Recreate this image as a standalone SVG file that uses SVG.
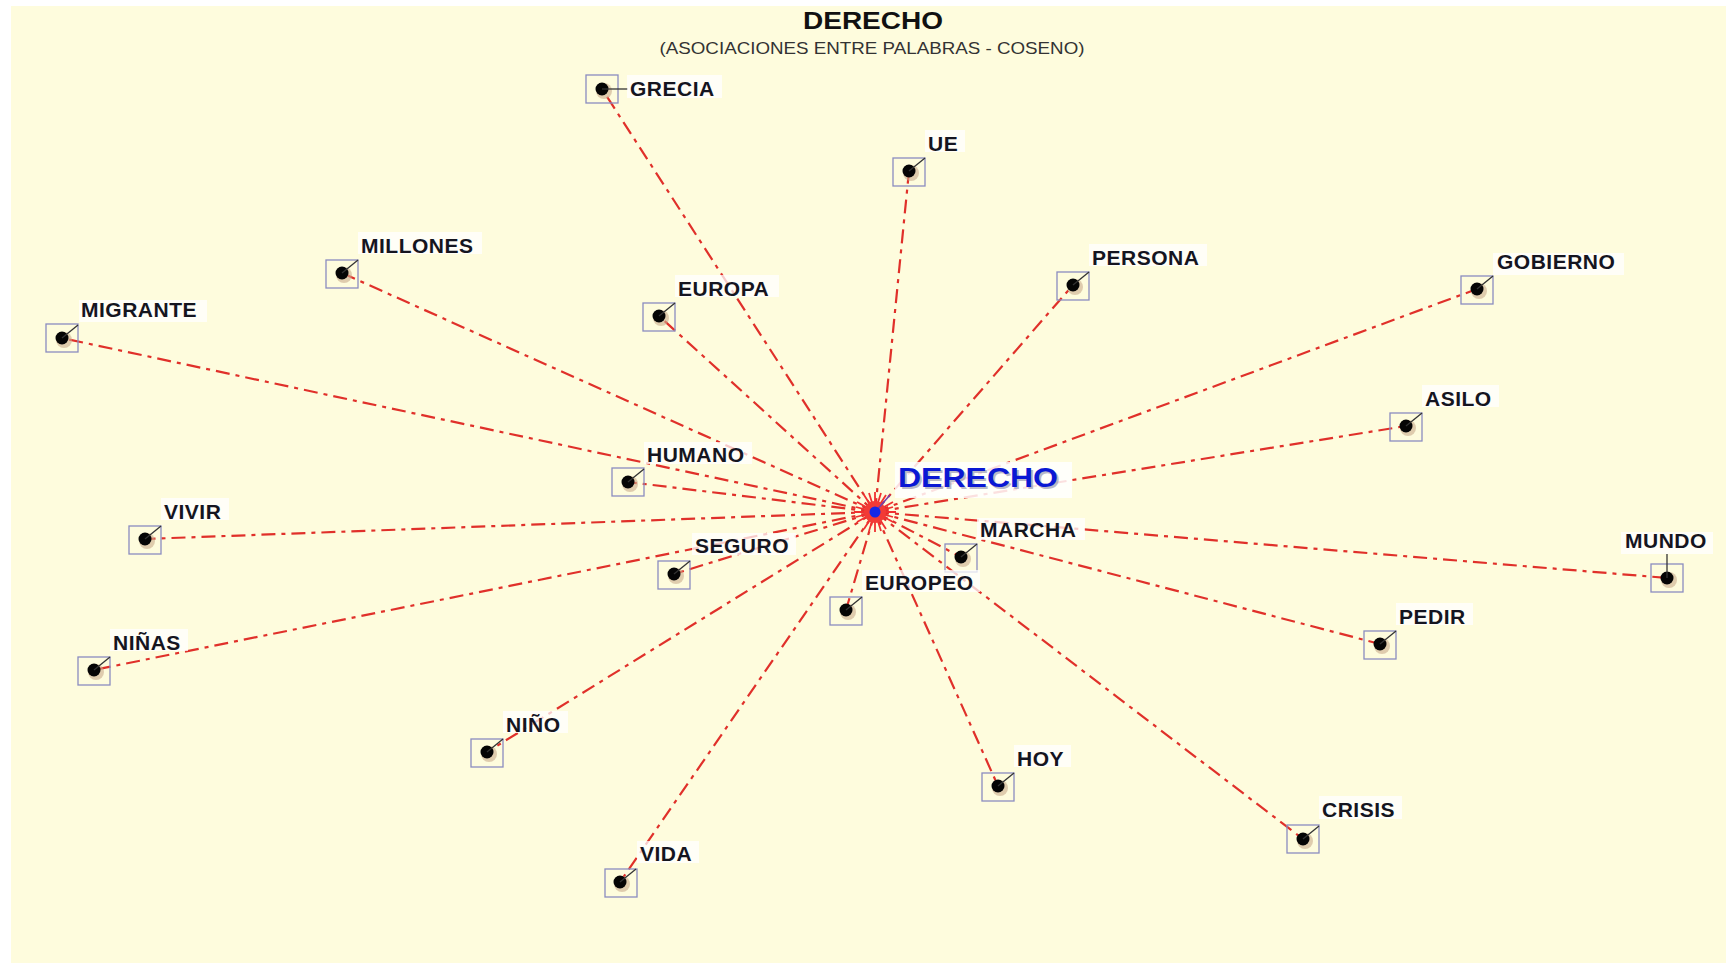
<svg xmlns="http://www.w3.org/2000/svg" width="1726" height="963" viewBox="0 0 1726 963">
<defs>
<style>
.bg{fill:#FEFCDD}
.lbl{font-family:"Liberation Sans",Arial,sans-serif;font-weight:bold;font-size:21px;fill:#15151f;letter-spacing:0.5px}
.lbg{fill:#ffffff;opacity:0.75}
.box{fill:none;stroke:#8a8cc0;stroke-width:1.3}
.sh{fill:#c9ab8e;opacity:0.6}
.dot{fill:#050505}
.lead{stroke:#333;stroke-width:1.3}
.con line{stroke:#e0302a;stroke-width:2.2;stroke-dasharray:14 6 4 6;fill:none}
</style>
</defs>
<rect x="0" y="0" width="1726" height="963" fill="#ffffff"/>
<rect class="bg" x="11" y="6" width="1715" height="957"/>
<g id="title">
<text x="873" y="29" text-anchor="middle" font-family="Liberation Sans,Arial,sans-serif" font-weight="bold" font-size="24" fill="#111" textLength="140" lengthAdjust="spacingAndGlyphs">DERECHO</text>
<text x="872" y="54" text-anchor="middle" font-family="Liberation Sans,Arial,sans-serif" font-size="17" fill="#333" textLength="425" lengthAdjust="spacingAndGlyphs">(ASOCIACIONES ENTRE PALABRAS - COSENO)</text>
</g>
<g id="connectors" class="con">
<line x1="875" y1="512" x2="602" y2="89"/>
<line x1="875" y1="512" x2="909" y2="171"/>
<line x1="875" y1="512" x2="1073" y2="285"/>
<line x1="875" y1="512" x2="1477" y2="289"/>
<line x1="875" y1="512" x2="1406" y2="426"/>
<line x1="875" y1="512" x2="1667" y2="578"/>
<line x1="875" y1="512" x2="1380" y2="644"/>
<line x1="875" y1="512" x2="1303" y2="839"/>
<line x1="875" y1="512" x2="998" y2="786"/>
<line x1="875" y1="512" x2="961" y2="557"/>
<line x1="875" y1="512" x2="846" y2="610"/>
<line x1="875" y1="512" x2="674" y2="574"/>
<line x1="875" y1="512" x2="487" y2="752"/>
<line x1="875" y1="512" x2="620" y2="882"/>
<line x1="875" y1="512" x2="94" y2="670"/>
<line x1="875" y1="512" x2="145" y2="539"/>
<line x1="875" y1="512" x2="628" y2="482"/>
<line x1="875" y1="512" x2="62" y2="338"/>
<line x1="875" y1="512" x2="342" y2="273"/>
<line x1="875" y1="512" x2="659" y2="316"/>
</g>
<g id="center">
<path d="M875 512 L875 492 M875 512 L886 495 M875 512 L893 502 M875 512 L896 512 M875 512 L893 522 M875 512 L886 529 M875 512 L875 532 M875 512 L864 529 M875 512 L857 522 M875 512 L854 512 M875 512 L857 502 M875 512 L864 495 M875 512 L869 493 M875 512 L881 493 M875 512 L893 507 M875 512 L893 517 M875 512 L881 531 M875 512 L869 531 M875 512 L856 517 M875 512 L856 507" stroke="#f03030" stroke-width="1.8"/>
<circle cx="875" cy="512" r="11" fill="#f23a35"/>
<line x1="875" y1="512" x2="890" y2="495" stroke="#7040b0" stroke-width="1.6"/>
<circle cx="875" cy="512" r="5.5" fill="#1428e6"/>
<rect x="895" y="462" width="177" height="36" fill="#ffffff" opacity="0.85"/>
<text x="900" y="489" font-family="Liberation Sans,Arial,sans-serif" font-weight="bold" font-size="27" fill="#8c8ca8" opacity="0.6" textLength="160" lengthAdjust="spacingAndGlyphs">DERECHO</text>
<text x="898" y="487" font-family="Liberation Sans,Arial,sans-serif" font-weight="bold" font-size="27" fill="#0a18d4" textLength="160" lengthAdjust="spacingAndGlyphs">DERECHO</text>
</g>
<g id="n-grecia"><rect class="box" x="586" y="75" width="32" height="28"/><circle class="sh" cx="604" cy="91" r="8"/><circle class="dot" cx="602" cy="89" r="6.5"/><line class="lead" x1="602" y1="89" x2="628" y2="89"/><rect class="lbg" x="627" y="75" width="95" height="23"/><text class="lbl" x="630" y="96">GRECIA</text></g>
<g id="n-ue"><rect class="box" x="893" y="158" width="32" height="28"/><circle class="sh" cx="911" cy="173" r="8"/><circle class="dot" cx="909" cy="171" r="6.5"/><line class="lead" x1="909" y1="171" x2="925" y2="158"/><rect class="lbg" x="925" y="130" width="40" height="22"/><text class="lbl" x="928" y="151">UE</text></g>
<g id="n-persona"><rect class="box" x="1057" y="272" width="32" height="28"/><circle class="sh" cx="1075" cy="287" r="8"/><circle class="dot" cx="1073" cy="285" r="6.5"/><line class="lead" x1="1073" y1="285" x2="1089" y2="272"/><rect class="lbg" x="1089" y="244" width="118" height="22"/><text class="lbl" x="1092" y="265">PERSONA</text></g>
<g id="n-gobierno"><rect class="box" x="1461" y="276" width="32" height="28"/><circle class="sh" cx="1479" cy="291" r="8"/><circle class="dot" cx="1477" cy="289" r="6.5"/><line class="lead" x1="1477" y1="289" x2="1493" y2="276"/><rect class="lbg" x="1493" y="253" width="131" height="22"/><text class="lbl" x="1497" y="269">GOBIERNO</text></g>
<g id="n-asilo"><rect class="box" x="1390" y="413" width="32" height="28"/><circle class="sh" cx="1408" cy="428" r="8"/><circle class="dot" cx="1406" cy="426" r="6.5"/><line class="lead" x1="1406" y1="426" x2="1422" y2="413"/><rect class="lbg" x="1422" y="385" width="77" height="22"/><text class="lbl" x="1425" y="406">ASILO</text></g>
<g id="n-mundo"><rect class="box" x="1651" y="564" width="32" height="28"/><circle class="sh" cx="1669" cy="580" r="8"/><circle class="dot" cx="1667" cy="578" r="6.5"/><line class="lead" x1="1667" y1="578" x2="1667" y2="554"/><rect class="lbg" x="1621" y="532" width="92" height="22"/><text class="lbl" x="1625" y="548">MUNDO</text></g>
<g id="n-pedir"><rect class="box" x="1364" y="631" width="32" height="28"/><circle class="sh" cx="1382" cy="646" r="8"/><circle class="dot" cx="1380" cy="644" r="6.5"/><line class="lead" x1="1380" y1="644" x2="1396" y2="631"/><rect class="lbg" x="1396" y="603" width="77" height="22"/><text class="lbl" x="1399" y="624">PEDIR</text></g>
<g id="n-crisis"><rect class="box" x="1287" y="825" width="32" height="28"/><circle class="sh" cx="1305" cy="841" r="8"/><circle class="dot" cx="1303" cy="839" r="6.5"/><line class="lead" x1="1303" y1="839" x2="1319" y2="826"/><rect class="lbg" x="1319" y="796" width="83" height="23"/><text class="lbl" x="1322" y="817">CRISIS</text></g>
<g id="n-hoy"><rect class="box" x="982" y="773" width="32" height="28"/><circle class="sh" cx="1000" cy="788" r="8"/><circle class="dot" cx="998" cy="786" r="6.5"/><line class="lead" x1="998" y1="786" x2="1014" y2="773"/><rect class="lbg" x="1014" y="745" width="57" height="22"/><text class="lbl" x="1017" y="766">HOY</text></g>
<g id="n-marcha"><rect class="box" x="945" y="544" width="32" height="28"/><circle class="sh" cx="963" cy="559" r="8"/><circle class="dot" cx="961" cy="557" r="6.5"/><line class="lead" x1="961" y1="557" x2="977" y2="544"/><rect class="lbg" x="977" y="518" width="108" height="22"/><text class="lbl" x="980" y="537">MARCHA</text></g>
<g id="n-europeo"><rect class="box" x="830" y="597" width="32" height="28"/><circle class="sh" cx="848" cy="612" r="8"/><circle class="dot" cx="846" cy="610" r="6.5"/><line class="lead" x1="846" y1="610" x2="862" y2="597"/><rect class="lbg" x="862" y="570" width="118" height="22"/><text class="lbl" x="865" y="590">EUROPEO</text></g>
<g id="n-seguro"><rect class="box" x="658" y="561" width="32" height="28"/><circle class="sh" cx="676" cy="576" r="8"/><circle class="dot" cx="674" cy="574" r="6.5"/><line class="lead" x1="674" y1="574" x2="690" y2="561"/><rect class="lbg" x="692" y="533" width="104" height="22"/><text class="lbl" x="695" y="553">SEGURO</text></g>
<g id="n-nino"><rect class="box" x="471" y="739" width="32" height="28"/><circle class="sh" cx="489" cy="754" r="8"/><circle class="dot" cx="487" cy="752" r="6.5"/><line class="lead" x1="487" y1="752" x2="503" y2="739"/><rect class="lbg" x="503" y="711" width="65" height="22"/><text class="lbl" x="506" y="732">NIÑO</text></g>
<g id="n-vida"><rect class="box" x="605" y="869" width="32" height="28"/><circle class="sh" cx="622" cy="884" r="8"/><circle class="dot" cx="620" cy="882" r="6.5"/><line class="lead" x1="620" y1="882" x2="636" y2="869"/><rect class="lbg" x="637" y="841" width="62" height="22"/><text class="lbl" x="640" y="861">VIDA</text></g>
<g id="n-ninas"><rect class="box" x="78" y="657" width="32" height="28"/><circle class="sh" cx="96" cy="672" r="8"/><circle class="dot" cx="94" cy="670" r="6.5"/><line class="lead" x1="94" y1="670" x2="110" y2="657"/><rect class="lbg" x="110" y="629" width="78" height="22"/><text class="lbl" x="113" y="650">NIÑAS</text></g>
<g id="n-vivir"><rect class="box" x="129" y="526" width="32" height="28"/><circle class="sh" cx="147" cy="541" r="8"/><circle class="dot" cx="145" cy="539" r="6.5"/><line class="lead" x1="145" y1="539" x2="161" y2="526"/><rect class="lbg" x="161" y="498" width="68" height="22"/><text class="lbl" x="164" y="519">VIVIR</text></g>
<g id="n-humano"><rect class="box" x="612" y="468" width="32" height="28"/><circle class="sh" cx="630" cy="484" r="8"/><circle class="dot" cx="628" cy="482" r="6.5"/><line class="lead" x1="628" y1="482" x2="644" y2="469"/><rect class="lbg" x="644" y="442" width="108" height="22"/><text class="lbl" x="647" y="462">HUMANO</text></g>
<g id="n-migrante"><rect class="box" x="46" y="324" width="32" height="28"/><circle class="sh" cx="64" cy="340" r="8"/><circle class="dot" cx="62" cy="338" r="6.5"/><line class="lead" x1="62" y1="338" x2="78" y2="325"/><rect class="lbg" x="79" y="300" width="128" height="22"/><text class="lbl" x="81" y="317">MIGRANTE</text></g>
<g id="n-millones"><rect class="box" x="326" y="260" width="32" height="28"/><circle class="sh" cx="344" cy="275" r="8"/><circle class="dot" cx="342" cy="273" r="6.5"/><line class="lead" x1="342" y1="273" x2="358" y2="260"/><rect class="lbg" x="358" y="232" width="124" height="22"/><text class="lbl" x="361" y="253">MILLONES</text></g>
<g id="n-europa"><rect class="box" x="643" y="303" width="32" height="28"/><circle class="sh" cx="661" cy="318" r="8"/><circle class="dot" cx="659" cy="316" r="6.5"/><line class="lead" x1="659" y1="316" x2="675" y2="303"/><rect class="lbg" x="675" y="275" width="104" height="22"/><text class="lbl" x="678" y="296">EUROPA</text></g>
</svg>
